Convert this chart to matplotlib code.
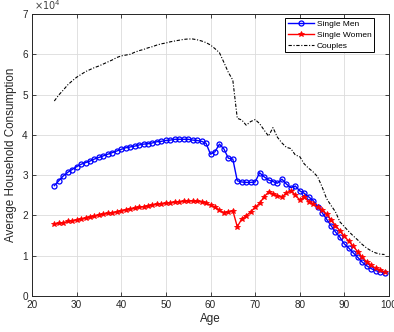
import matplotlib
matplotlib.use("Agg")
import matplotlib.pyplot as plt
import numpy as np

plt.rcParams['font.family'] = ['Liberation Sans', 'DejaVu Sans']

ages = list(range(25, 100))
scale = 1e4

single_men = [2.74, 2.86, 2.98, 3.07, 3.14, 3.21, 3.27, 3.31, 3.35, 3.40,
              3.44, 3.48, 3.52, 3.56, 3.60, 3.64, 3.68, 3.70, 3.72, 3.75,
              3.77, 3.78, 3.80, 3.83, 3.84, 3.86, 3.87, 3.89, 3.89, 3.89,
              3.89, 3.87, 3.86, 3.84, 3.79, 3.52, 3.58, 3.77, 3.65, 3.42,
              3.40, 2.86, 2.83, 2.82, 2.82, 2.83, 3.06, 2.96, 2.88, 2.84,
              2.80, 2.90, 2.78, 2.69, 2.73, 2.61, 2.55, 2.46, 2.37, 2.22,
              2.07, 1.91, 1.75, 1.59, 1.46, 1.29, 1.19, 1.07, 0.96, 0.84,
              0.75, 0.68, 0.63, 0.60, 0.58]

single_women = [1.78, 1.80, 1.82, 1.85, 1.87, 1.89, 1.91, 1.93, 1.96, 1.98,
                2.01, 2.03, 2.05, 2.07, 2.09, 2.12, 2.14, 2.16, 2.18, 2.20,
                2.22, 2.24, 2.26, 2.28, 2.29, 2.30, 2.32, 2.33, 2.34, 2.35,
                2.36, 2.36, 2.35, 2.34, 2.30, 2.26, 2.20, 2.13, 2.07, 2.09,
                2.12, 1.72, 1.91, 1.99, 2.09, 2.20, 2.30, 2.46, 2.58, 2.53,
                2.49, 2.45, 2.56, 2.61, 2.51, 2.38, 2.46, 2.34, 2.28, 2.20,
                2.14, 2.03, 1.89, 1.75, 1.62, 1.48, 1.36, 1.23, 1.10, 0.96,
                0.85, 0.76, 0.69, 0.64, 0.60]

couples = [4.84, 4.99, 5.11, 5.24, 5.34, 5.43, 5.50, 5.57, 5.62, 5.67,
           5.71, 5.76, 5.81, 5.86, 5.92, 5.96, 5.98, 6.00, 6.05, 6.09,
           6.12, 6.16, 6.19, 6.23, 6.26, 6.28, 6.31, 6.33, 6.35, 6.37,
           6.38, 6.38, 6.36, 6.33, 6.29, 6.23, 6.14, 6.04, 5.80, 5.55,
           5.36, 4.41, 4.37, 4.24, 4.33, 4.38, 4.28, 4.12, 3.97, 4.18,
           3.94, 3.80, 3.69, 3.66, 3.50, 3.46, 3.28, 3.17, 3.08, 2.96,
           2.71, 2.42, 2.25, 2.09, 1.84, 1.72, 1.60, 1.49, 1.39, 1.28,
           1.19, 1.12, 1.07, 1.04, 1.03]

xticks = [20, 30, 40, 50, 60, 70, 80, 90, 100]
yticks = [0, 1, 2, 3, 4, 5, 6, 7]

fig = plt.figure(figsize=(3.94, 3.32), dpi=100)
ax = fig.add_axes([32/394, 1-296/332, 357/394, 282/332])

ax.plot(ages, np.array(single_men)*scale, color='blue', marker='o', markersize=3.6,
        markerfacecolor='none', markeredgewidth=0.9, linewidth=1.0, label='Single Men')
ax.plot(ages, np.array(single_women)*scale, color='red', marker='*', markersize=4.2,
        markeredgewidth=0.6, linewidth=1.0, label='Single Women')
ax.plot(ages, np.array(couples)*scale, color='black', linestyle='-.', linewidth=0.8,
        dashes=(3, 1.5, 1, 1.5), label='Couples')

ax.set_xlim(20, 100)
ax.set_ylim(0, 7*scale)
ax.set_xticks(xticks)
ax.set_yticks([v*scale for v in yticks])
ax.set_yticklabels([str(v) for v in yticks])
ax.text(0.005, 1.006, r'$\times10^{4}$', transform=ax.transAxes, ha='left', va='bottom',
        fontsize=7, color='#404040')

ax.grid(True, color='#dcdcdc', linewidth=0.6)
ax.set_axisbelow(True)
ax.tick_params(direction='in', top=True, right=True, length=3, width=0.6,
               labelsize=7.2, colors='#262626', pad=3)
for s in ax.spines.values():
    s.set_color('#262626')
    s.set_linewidth(0.7)

ax.set_xlabel('Age', fontsize=8.4, color='#262626', labelpad=2)
ax.set_ylabel('Average Household Consumption', fontsize=8.4, color='#262626', labelpad=4)

leg = ax.legend(loc='upper right', bbox_to_anchor=(0.958, 0.986), fontsize=6,
                fancybox=False, edgecolor='black', framealpha=1, handlelength=3.2,
                borderpad=0.3, labelspacing=0.35, handletextpad=0.3, borderaxespad=0)
leg.get_frame().set_linewidth(0.7)

fig.savefig('out.png', dpi=100)
